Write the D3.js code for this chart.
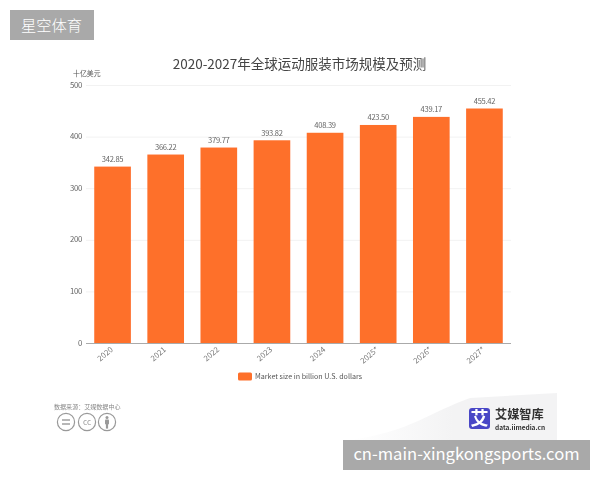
<!DOCTYPE html>
<html>
<head>
<meta charset="utf-8">
<script src="https://cdn.jsdelivr.net/npm/d3@7"></script>
<style>
html,body{margin:0;padding:0;background:#fff;}
svg{display:block;}
text{font-family:"Noto Sans CJK SC","Open Sans",sans-serif;}
</style>
</head>
<body>
<svg id="chart" width="600" height="480"></svg>
<script>
const years = ["2020","2021","2022","2023","2024","2025*","2026*","2027*"];
const marketSize = [342.85,366.22,379.77,393.82,408.39,423.50,439.17,455.42];
const yTicks = [0,100,200,300,400,500];
const chartTitle = "2020-2027年全球运动服装市场规模及预测";
const unitLabel = "十亿美元";
const legendLabel = "Market size in billion U.S. dollars";
const sourceLabel = "数据来源：艾媒数据中心";
const brandName = "星空体育";
const brandSite = "cn-main-xingkongsports.com";

const svg = d3.select("#chart");
const orange = "#fe6f2c";

const x = d3.scaleBand().domain(years).range([86,511]).paddingInner(0.31).paddingOuter(0.155);
const y = d3.scaleLinear().domain([0,500]).range([343.5,85.5]);

// pale logo panel, lower right
const defs = svg.append("defs");
const panelGrad = defs.append("linearGradient").attr("id","panelGrad")
  .attr("x1","0").attr("x2","1").attr("y1","0").attr("y2","0");
panelGrad.append("stop").attr("offset","0").attr("stop-color","#f3f3f4").attr("stop-opacity",0);
panelGrad.append("stop").attr("offset","0.5").attr("stop-color","#f3f3f4").attr("stop-opacity",1);
svg.append("path")
  .attr("d","M350 440 C410 432 430 412 470 398 L557 393 L557 440 Z")
  .attr("fill","url(#panelGrad)");

const soften = defs.append("filter").attr("id","soft")
  .attr("x","-5%").attr("y","-5%").attr("width","110%").attr("height","110%");
soften.append("feGaussianBlur").attr("stdDeviation",0.35);

const chart = svg.append("g").attr("filter","url(#soft)");

// horizontal grid
chart.append("g").selectAll("line").data(yTicks.filter(d=>d>0)).join("line")
  .attr("x1",86).attr("x2",511)
  .attr("y1",d=>y(d)).attr("y2",d=>y(d))
  .attr("stroke","#f2f2f2").attr("stroke-width",1);

// y axis labels
const yAxis = d3.axisLeft(y).tickValues(yTicks).tickSize(0).tickPadding(0);
const yG = chart.append("g").attr("transform","translate(82,0)").call(yAxis);
yG.select(".domain").remove();
yG.selectAll("text").attr("fill","#666").attr("font-size",7.8).attr("letter-spacing",-0.3)
  .attr("font-family","'Open Sans',sans-serif").attr("dy","0.2em");

chart.append("text").attr("x",73).attr("y",76).attr("font-size",6.9).attr("fill","#555").text(unitLabel);

// bars
chart.append("g").selectAll("rect").data(marketSize).join("rect")
  .attr("x",(d,i)=>x(years[i]))
  .attr("y",d=>y(d))
  .attr("width",x.bandwidth())
  .attr("height",d=>y(0)-y(d))
  .attr("fill",orange);

// value labels above the bars
chart.append("g").selectAll("text").data(marketSize).join("text")
  .attr("x",(d,i)=>x(years[i])+x.bandwidth()/2)
  .attr("y",d=>y(d)-4.5)
  .attr("text-anchor","middle")
  .attr("font-size",7.6).attr("letter-spacing",-0.3).attr("font-family","'Open Sans',sans-serif")
  .attr("fill","#666")
  .text(d=>d.toFixed(2));

// category axis with slanted labels
const xAxis = d3.axisBottom(x).tickSize(0).tickPadding(0);
const xG = chart.append("g").attr("transform",`translate(0,${y(0)})`).call(xAxis);
xG.select(".domain").attr("stroke","#aaa").attr("stroke-width",1).attr("d","M86,0H511");
xG.selectAll("text")
  .attr("fill","#777").attr("font-size",7.8).attr("font-family","'Open Sans',sans-serif")
  .attr("text-anchor","end").attr("dy",0)
  .attr("transform","translate(1,7) rotate(-40)");

// title
chart.append("text").attr("x",299.5).attr("y",68.5).attr("text-anchor","middle")
  .attr("font-size",13.5).attr("fill","#444").text(chartTitle);

// legend
chart.append("rect").attr("x",238).attr("y",372.5).attr("width",14).attr("height",8).attr("rx",1.5).attr("fill",orange);
chart.append("text").attr("x",255).attr("y",379).attr("font-size",7.15)
  .attr("font-family","'Open Sans',sans-serif").attr("fill","#555").text(legendLabel);

// source line and licence badges
chart.append("text").attr("x",54).attr("y",408.5).attr("font-size",6.05).attr("fill","#888").text(sourceLabel);
const badgeX = [66,87,107];
const badges = chart.append("g").selectAll("g").data(badgeX).join("g")
  .attr("transform",d=>`translate(${d},422)`);
badges.append("circle").attr("r",8.6).attr("fill","none").attr("stroke","#999").attr("stroke-width",1.2);
d3.select(badges.nodes()[0]).selectAll("line").data([-2,2]).join("line")
  .attr("x1",-4).attr("x2",4).attr("y1",d=>d).attr("y2",d=>d)
  .attr("stroke","#999").attr("stroke-width",1.4);
d3.select(badges.nodes()[1]).append("text").attr("text-anchor","middle").attr("y",3)
  .attr("font-size",8).attr("font-family","'Open Sans',sans-serif").attr("fill","#999").text("cc");
const person = d3.select(badges.nodes()[2]);
person.append("circle").attr("cy",-4.6).attr("r",1.5).attr("fill","#999");
person.append("rect").attr("x",-2).attr("y",-2.6).attr("width",4).attr("height",5).attr("rx",.8).attr("fill","#999");
person.append("rect").attr("x",-1.1).attr("y",2).attr("width",2.2).attr("height",4.6).attr("fill","#999");

// publisher logo
const logo = chart.append("g");
logo.append("rect").attr("x",469).attr("y",408).attr("width",21).attr("height",21).attr("rx",3).attr("fill","#4a47c6");
logo.append("text").attr("x",479.5).attr("y",425).attr("text-anchor","middle")
  .attr("font-size",18).attr("font-weight",700).attr("fill","#fff").text("艾");
logo.append("text").attr("x",495).attr("y",418.5).attr("font-size",12.2).attr("font-weight",700).attr("fill","#333").text("艾媒智库");
logo.append("text").attr("x",495).attr("y",429.5).attr("font-size",6.5).attr("font-weight",700)
  .attr("font-family","'Liberation Sans',sans-serif").attr("fill","#333").text("data.iimedia.cn");

// brand tags
const tags = svg.append("g");
tags.append("rect").attr("x",10).attr("y",10).attr("width",84).attr("height",30).attr("fill","#a9a9a9");
tags.append("text").attr("x",51.5).attr("y",31).attr("text-anchor","middle").attr("font-weight",300)
  .attr("font-size",15.3).attr("fill","#fff").text(brandName);
tags.append("rect").attr("x",343).attr("y",440).attr("width",247).attr("height",30).attr("fill","#a9a9a9");
tags.append("text").attr("x",466.5).attr("y",460).attr("text-anchor","middle")
  .attr("font-size",16.6).attr("font-family","'Liberation Sans',sans-serif").attr("fill","#fff").text(brandSite);
</script>
</body>
</html>
